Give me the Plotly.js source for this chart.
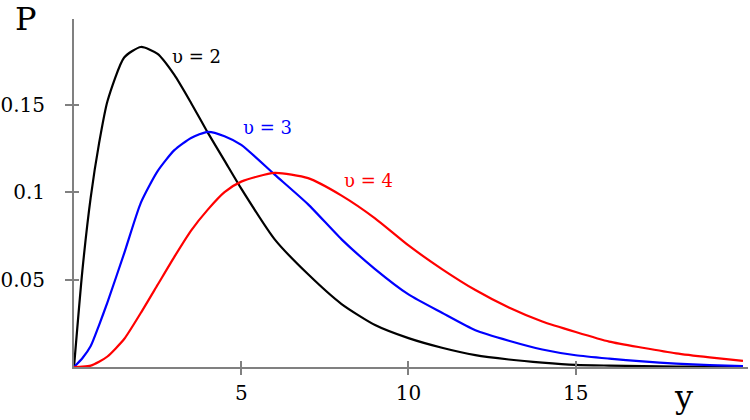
<!DOCTYPE html>
<html>
<head>
<meta charset="utf-8">
<script src="https://cdn.plot.ly/plotly-3.0.1.min.js"></script>
<style>
  html, body { margin: 0; padding: 0; background: #fff; }
  #plot { width: 750px; height: 420px; }
</style>
</head>
<body>
<div id="plot"></div>
<script>
var yVals = [0, 0.25, 0.5, 0.75, 1, 1.5, 2, 2.5, 3, 3.5, 4, 4.5, 5, 6, 7, 8, 9, 10,
             11, 12, 13, 14, 15, 16, 17, 18, 19, 20];

// P(y) for each curve
var pNu2 = [0, 0.055, 0.097, 0.128, 0.152, 0.177, 0.183, 0.179, 0.167, 0.151, 0.134, 0.118,
            0.102, 0.073, 0.053, 0.036, 0.024, 0.0165, 0.011, 0.0068, 0.0043, 0.0025,
            0.0012, 0.0008, 0.0005, 0.0003, 0.0002, 0.0001];
var pNu3 = [0, 0.005, 0.012, 0.024, 0.037, 0.065, 0.094, 0.112, 0.124, 0.131, 0.1345, 0.132,
            0.127, 0.110, 0.093, 0.073, 0.056, 0.0415, 0.031, 0.021, 0.015, 0.010,
            0.0067, 0.0048, 0.0032, 0.0019, 0.0011, 0.0005];
var pNu4 = [0, 0.0002, 0.0008, 0.003, 0.006, 0.016, 0.031, 0.047, 0.063, 0.078, 0.090, 0.100,
            0.106, 0.111, 0.108, 0.098, 0.085, 0.0695, 0.056, 0.044, 0.034, 0.026,
            0.020, 0.0145, 0.011, 0.0078, 0.0055, 0.0035];

var curveNames = ["υ = 2", "υ = 3", "υ = 4"];
var curveColors = ["#000000", "#0000ff", "#ff0000"];
// where each curve label sits (data coords)
var labelX = [3.66, 5.77, 8.79];
var labelY = [0.1777, 0.137, 0.1068];

var xTicks = [5, 10, 15];
var yTicks = [0.05, 0.1, 0.15];
var yTickText = ["0.05", "0.1", "0.15"];

var series = [pNu2, pNu3, pNu4];
var traces = [];
for (var i = 0; i < series.length; i++) {
  traces.push({
    x: yVals,
    y: series[i],
    mode: "lines",
    type: "scatter",
    name: curveNames[i],
    line: { color: curveColors[i], width: 2.2, shape: "spline", smoothing: 0.6 },
    hoverinfo: "skip"
  });
}

var font = { family: "DejaVu Serif, Liberation Serif, serif", size: 20, color: "#000" };
var xRange = [0, 20.15], yRange = [0, 0.199];

var annots = [];
for (var i = 0; i < curveNames.length; i++) {
  annots.push({
    x: labelX[i], y: labelY[i], xref: "x", yref: "y",
    text: curveNames[i], showarrow: false,
    font: { family: font.family, size: 18, color: curveColors[i] }
  });
}
annots.push({ x: -0.0712, y: 1.0, xref: "paper", yref: "paper", text: "P",
  xanchor: "center", yanchor: "middle",
  showarrow: false, font: { family: font.family, size: 32, color: "#000" } });
annots.push({ x: 0.9036, y: -0.085, xref: "paper", yref: "paper", text: "y",
  xanchor: "center", yanchor: "middle",
  showarrow: false, font: { family: font.family, size: 32, color: "#000" } });

var layout = {
  width: 750, height: 420,
  margin: { l: 74, r: 2, t: 19, b: 53 },
  paper_bgcolor: "#fff", plot_bgcolor: "#fff",
  showlegend: false,
  font: font,
  xaxis: {
    range: xRange, showgrid: false, zeroline: false,
    showline: true, linecolor: "#808080", linewidth: 2,
    tickvals: xTicks, ticks: "outside", ticklen: 6, tickwidth: 2, tickcolor: "#808080",
    ticklabelstandoff: 1, tickfont: font
  },
  yaxis: {
    range: yRange, showgrid: false, zeroline: false,
    showline: true, linecolor: "#808080", linewidth: 2,
    tickvals: yTicks, ticktext: yTickText, ticks: "outside", ticklen: 7, tickwidth: 2,
    tickcolor: "#808080", ticklabelstandoff: 16, tickfont: font
  },
  // inner half of the crossing ticks
  xaxis2: {
    overlaying: "x", range: xRange, showgrid: false, zeroline: false,
    tickvals: xTicks, ticks: "inside", ticklen: 6, tickwidth: 2, tickcolor: "#808080",
    showticklabels: false
  },
  yaxis2: {
    overlaying: "y", range: yRange, showgrid: false, zeroline: false,
    tickvals: yTicks, ticks: "inside", ticklen: 5, tickwidth: 2, tickcolor: "#808080",
    showticklabels: false
  },
  annotations: annots
};

// empty trace to bring the overlay axes to life
traces.push({ x: [], y: [], xaxis: "x2", yaxis: "y2", type: "scatter", mode: "lines",
  hoverinfo: "skip" });

Plotly.newPlot("plot", traces, layout, { staticPlot: true });
</script>
</body>
</html>
